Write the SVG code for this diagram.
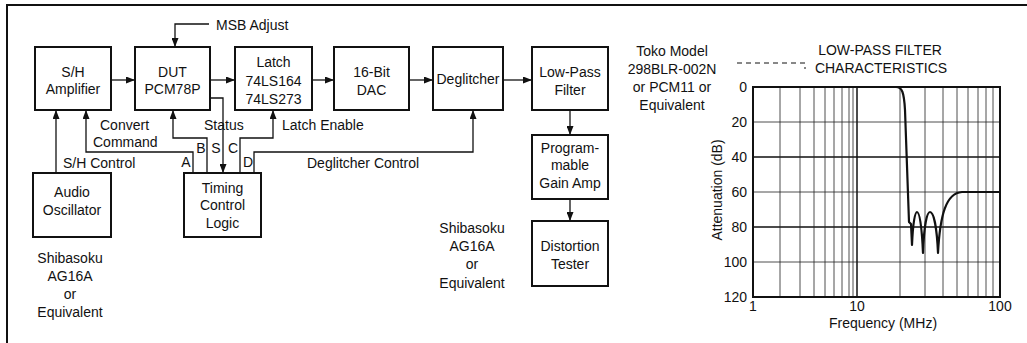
<svg xmlns="http://www.w3.org/2000/svg" width="1027" height="343" viewBox="0 0 1027 343">
<style>
text{font-family:"Liberation Sans",Arial,sans-serif;font-size:14px;fill:#111}
.c{text-anchor:middle}
.r{text-anchor:end}
.box{fill:#fff;stroke:#111;stroke-width:2}
.w{fill:none;stroke:#111;stroke-width:1.3}
.g{fill:none;stroke:#222;stroke-width:0.8}
.gt{fill:none;stroke:#111;stroke-width:1.5}
</style>
<defs>
<marker id="ah" markerUnits="userSpaceOnUse" markerWidth="9" markerHeight="7" refX="9" refY="3.5" orient="auto">
<path d="M0,0 L9,3.5 L0,7 z" fill="#111"/>
</marker>
</defs>
<rect width="1027" height="343" fill="#fff"/>
<g id="frame"><path d="M7,343 L7,5 L1027,5" fill="none" stroke="#111" stroke-width="2"/></g>

<g id="sh"><rect class="box" x="35" y="47" width="76" height="63"/><text class="c" x="73" y="77">S/H</text><text class="c" x="73" y="94">Amplifier</text></g>
<g id="dut"><rect class="box" x="135" y="47" width="75" height="63"/><text class="c" x="172.5" y="77">DUT</text><text class="c" x="172.5" y="94">PCM78P</text></g>
<g id="latch"><rect class="box" x="235" y="47" width="77" height="63"/><text class="c" x="273.5" y="67">Latch</text><text class="c" x="273.5" y="86">74LS164</text><text class="c" x="273.5" y="104">74LS273</text></g>
<g id="dac"><rect class="box" x="334" y="47" width="75" height="63"/><text class="c" x="371.5" y="77">16-Bit</text><text class="c" x="371.5" y="95">DAC</text></g>
<g id="deglitcher"><rect class="box" x="433" y="47" width="70" height="63"/><text class="c" x="468" y="84">Deglitcher</text></g>
<g id="lpf"><rect class="box" x="532" y="47" width="76" height="63"/><text class="c" x="570" y="77">Low-Pass</text><text class="c" x="570" y="95">Filter</text></g>
<g id="pga"><rect class="box" x="532" y="135" width="76" height="64"/><text class="c" x="570" y="153">Program-</text><text class="c" x="570" y="170">mable</text><text class="c" x="570" y="188">Gain Amp</text></g>
<g id="dist"><rect class="box" x="532" y="221" width="76" height="65"/><text class="c" x="570" y="251">Distortion</text><text class="c" x="570" y="269">Tester</text></g>
<g id="timing"><rect class="box" x="184" y="173" width="77" height="64"/><text class="c" x="222.5" y="193">Timing</text><text class="c" x="222.5" y="210">Control</text><text class="c" x="222.5" y="228">Logic</text></g>
<g id="osc"><rect class="box" x="33" y="173" width="78" height="64"/><text class="c" x="72" y="197">Audio</text><text class="c" x="72" y="215">Oscillator</text></g>

<g id="connectors">
<path class="w" marker-end="url(#ah)" d="M111,80 L135,80"/>
<path class="w" marker-end="url(#ah)" d="M210,80 L235,80"/>
<path class="w" marker-end="url(#ah)" d="M312,80 L334,80"/>
<path class="w" marker-end="url(#ah)" d="M409,80 L433,80"/>
<path class="w" marker-end="url(#ah)" d="M503,80 L532,80"/>
<path class="w" marker-end="url(#ah)" d="M570,110 L570,135"/>
<path class="w" marker-end="url(#ah)" d="M570,199 L570,221"/>
<path class="w" marker-end="url(#ah)" d="M209,24 L175,24 L175,47"/>
<path class="w" marker-end="url(#ah)" d="M56,173 L56,110"/>
<path class="w" marker-end="url(#ah)" d="M193,173 L193,152 L86,152 L86,110"/>
<path class="w" marker-end="url(#ah)" d="M207,173 L207,138 L173,138 L173,110"/>
<path class="w" marker-end="url(#ah)" d="M210,98 L223,98 L223,173"/>
<path class="w" marker-end="url(#ah)" d="M240,173 L240,138 L273,138 L273,110"/>
<path class="w" marker-end="url(#ah)" d="M254,173 L254,152 L473,152 L473,110"/>
</g>

<g id="labels">
<text x="216" y="30">MSB Adjust</text>
<text x="100" y="130">Convert</text>
<text x="93" y="147">Command</text>
<text x="204" y="130">Status</text>
<text x="282" y="130">Latch Enable</text>
<text x="63" y="168">S/H Control</text>
<text x="307" y="168">Deglitcher Control</text>
<text class="c" x="186" y="167">A</text>
<text class="c" x="201" y="153">B</text>
<text class="c" x="216" y="153">S</text>
<text class="c" x="233" y="153">C</text>
<text class="c" x="248" y="167">D</text>
<text class="c" x="70" y="263">Shibasoku</text>
<text class="c" x="70" y="281">AG16A</text>
<text class="c" x="70" y="299">or</text>
<text class="c" x="70" y="317">Equivalent</text>
<text class="c" x="472" y="233">Shibasoku</text>
<text class="c" x="472" y="251">AG16A</text>
<text class="c" x="472" y="269">or</text>
<text class="c" x="472" y="288">Equivalent</text>
<text class="c" x="672" y="56">Toko Model</text>
<text class="c" x="672" y="74">298BLR-002N</text>
<text class="c" x="672" y="92">or PCM11 or</text>
<text class="c" x="672" y="110">Equivalent</text>
</g>

<g id="chart">
<text class="c" x="880" y="55">LOW-PASS FILTER</text>
<text class="c" x="881" y="73">CHARACTERISTICS</text>
<path d="M737,63 L805,63 L805,69" fill="none" stroke="#111" stroke-width="1" stroke-dasharray="5,4"/>
<g id="grid">
<path class="g" d="M753,122 H1000 M753,192 H1000 M753,262 H1000"/>
<path class="gt" d="M753,157 H1000 M753,227 H1000"/>
<path class="g" d="M780,87 V297 M800,87 V297 M814,87 V297 M825,87 V297 M834,87 V297 M842,87 V297 M849,87 V297 M853,87 V297"/>
<path class="gt" d="M857,87 V297"/>
<path class="g" d="M900,87 V297 M925,87 V297 M943,87 V297 M957,87 V297 M968,87 V297 M978,87 V297 M986,87 V297 M993,87 V297"/>
<rect x="753" y="87" width="247" height="210" fill="none" stroke="#111" stroke-width="2"/>
</g>
<path d="M753,87 L896,87 C902,87 904,92 905,110 L909,222 L911,224 L912,245 C913,222 915,212 917,212 C920,212 922,230 923,253 C924,225 927,212 930,212 C934,212 937,230 938,253 C940,215 946,193 962,192 L1000,192" fill="none" stroke="#111" stroke-width="2.2" stroke-linejoin="round"/>
<text class="r" x="747" y="92">0</text>
<text class="r" x="747" y="127">20</text>
<text class="r" x="747" y="162">40</text>
<text class="r" x="747" y="197">60</text>
<text class="r" x="747" y="232">80</text>
<text class="r" x="747" y="267">100</text>
<text class="r" x="747" y="302">120</text>
<text class="c" x="753" y="311">1</text>
<text class="c" x="857" y="311">10</text>
<text class="c" x="1000" y="311">100</text>
<text class="c" x="883" y="328">Frequency (MHz)</text>
<text class="c" transform="translate(722,190) rotate(-90)">Attenuation (dB)</text>
</g>
</svg>
